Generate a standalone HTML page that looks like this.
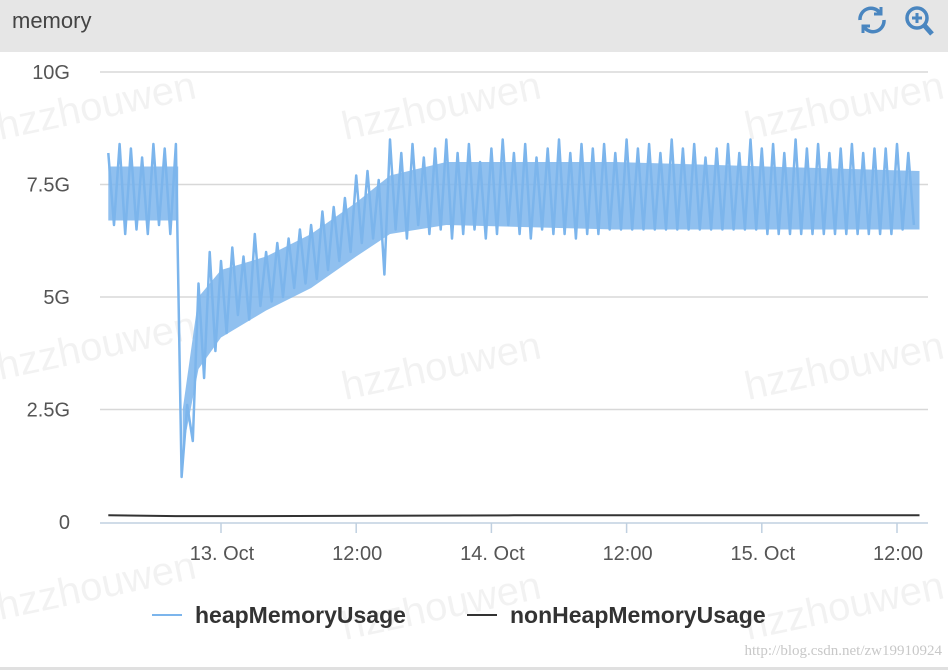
<!DOCTYPE html>
<html><head><meta charset="utf-8"><style>
body{margin:0;width:948px;height:670px;overflow:hidden;background:#fff;font-family:"Liberation Sans",sans-serif}
#hdr{position:absolute;left:0;top:0;width:948px;height:52px;background:#e6e6e6}
#title{position:absolute;left:12px;top:8px;font-size:22px;color:#444}
#foot{position:absolute;left:0;top:667px;width:948px;height:3px;background:#e0e0e0}
</style></head><body>
<div id="hdr"><div id="title">memory</div>
<svg style="position:absolute;left:855px;top:3px" width="85" height="34">
<g fill="none" stroke="#4a86c0" stroke-width="3.5"><path d="M5 17 A11 11 0 0 1 25 10"/><path d="M29 17 A11 11 0 0 1 9 24"/><path d="M26 4 L26 11 L19 11" stroke-width="3"/><path d="M8 30 L8 23 L15 23" stroke-width="3"/></g>
<g><circle cx="62" cy="15" r="10" fill="none" stroke="#4a86c0" stroke-width="3.5"/><path d="M69 22 L77 31" stroke="#4a86c0" stroke-width="5"/><path d="M62 10 V20 M57 15 H67" stroke="#4a86c0" stroke-width="3"/></g>
</svg></div>
<svg id="chart" width="948" height="670" style="position:absolute;left:0;top:0"></svg>
<div id="foot"></div>
<script>
const yTicks=[0,2.5,5,7.5,10];
const yTickLabels=["0","2.5G","5G","7.5G","10G"];
const xTicks=[0,12,24,36,48,60];
const xTickLabels=["13. Oct","12:00","14. Oct","12:00","15. Oct","12:00"];
const heapStart=-10, heapStep=0.5;
const heapValues=[8.2,6.6,8.4,6.4,8.3,6.5,8.1,6.4,8.4,6.6,8.3,6.4,8.4,
1.0,2.6,1.8,5.3,3.2,6.0,3.8,5.8,
4.2,6.1,4.6,5.9,4.5,6.4,4.8,6.0,4.9,6.2,5.0,6.3,5.2,6.5,5.3,6.6,5.4,6.9,5.6,7.0,5.8,7.2,6.0,
7.7,6.2,7.8,6.3,7.6,5.5,
8.5,6.5,8.2,6.3,8.4,6.6,8.1,6.4,8.3,6.5,8.5,6.3,8.2,6.4,8.4,6.5,8.0,6.3,8.3,6.4,8.5,6.6,8.2,6.4,8.4,6.3,8.1,6.5,8.3,6.4,8.5,6.4,8.2,6.3,8.4,
6.4,8.3,6.4,8.4,6.5,8.2,6.5,8.5,6.5,8.3,6.5,8.4,6.5,8.2,6.5,8.5,6.5,8.3,6.5,8.4,6.5,8.1,6.5,8.3,6.5,8.4,6.5,8.2,6.5,8.5,6.5,8.3,6.4,8.4,6.4,8.2,6.4,8.5,6.4,8.3,6.4,8.4,6.4,8.2,6.4,8.3,6.4,8.4,6.4,8.2,6.4,8.3,6.4,8.3,6.4,8.4,6.5,8.2,6.6];
// dense core band of the heap series (before and after the drop)
const band1Times=[-10,-3.8];
const band1Low=[6.7,6.7];
const band1High=[7.9,7.9];
const band2Times=[-3.4,-2,0,4,8,12,15,20,35,62];
const band2Low=[1.6,3.4,4.1,4.7,5.2,5.9,6.4,6.6,6.5,6.5];
const band2High=[2.5,5.0,5.6,5.9,6.4,7.1,7.7,8.0,8.0,7.8];
const nonHeapTimes=[-10,-4,2,26,62];
const nonHeapValues=[0.15,0.13,0.13,0.15,0.15];
const NS="http://www.w3.org/2000/svg",svg=document.getElementById('chart');
const X=h=>221+h*135.2/12, Y=v=>522-v*45;
function mk(t,a,p){const e=document.createElementNS(NS,t);for(const k in a)e.setAttribute(k,a[k]);(p||svg).appendChild(e);return e;}
[[0,140],[345,140],[748,140],[0,380],[345,400],[748,400],[0,620],[345,640],[748,640]].forEach(p=>{const t=mk('text',{x:p[0],y:p[1],'font-size':40,fill:'rgba(0,0,0,0.05)',transform:`rotate(-12 ${p[0]} ${p[1]})`});


t.textContent='hzzhouwen';});
yTicks.forEach((v,i)=>{if(v>0){const l=mk('line',{x1:100,x2:928,y1:Y(v),y2:Y(v),stroke:'#d8d8d8','stroke-width':1.5});

}
const t=mk('text',{x:70,y:Y(v)+7,'text-anchor':'end','font-size':20,fill:'#555'});


t.textContent=yTickLabels[i];});
const ax=mk('line',{x1:100,x2:928,y1:523,y2:523,stroke:'#c0d0e0','stroke-width':1.5});


xTicks.forEach((h,i)=>{const l=mk('line',{x1:X(h),x2:X(h),y1:523,y2:533,stroke:'#c0d0e0','stroke-width':1.5});


const t=mk('text',{x:X(h)+1,y:560,'text-anchor':'middle','font-size':20,fill:'#555'});


t.textContent=xTickLabels[i];});
function band(ts,lo,hi){const pts=ts.map((t,i)=>X(t).toFixed(1)+','+Y(hi[i]).toFixed(1)).concat(ts.map((t,i)=>X(t).toFixed(1)+','+Y(lo[i]).toFixed(1)).reverse());
const b=mk('polygon',{points:pts.join(' '),fill:'#7cb5ec','fill-opacity':0.85});

}
band(band1Times,band1Low,band1High);
band(band2Times,band2Low,band2High);
const hp=mk('polyline',{points:heapValues.map((v,i)=>X(heapStart+i*heapStep).toFixed(1)+','+Y(v).toFixed(1)).join(' '),fill:'none',stroke:'#7cb5ec','stroke-width':2.5,'stroke-linejoin':'round'});


const np=mk('polyline',{points:nonHeapValues.map((v,i)=>X(nonHeapTimes[i]).toFixed(1)+','+Y(v).toFixed(1)).join(' '),fill:'none',stroke:'#333','stroke-width':2});


[[132,'#7cb5ec','heapMemoryUsage',195],[327,'#333','nonHeapMemoryUsage',510]].forEach(d=>{const g=mk('g',{});


mk('line',{x1:d[3]-43,x2:d[3]-13,y1:615,y2:615,stroke:d[1],'stroke-width':2},g);
const t=mk('text',{x:d[3],y:623,'font-size':23,'font-weight':'bold',fill:'#333'},g);t.textContent=d[2];});
const u=mk('text',{x:942,y:655,'text-anchor':'end','font-size':15,fill:'#c8c8c8','font-family':'Liberation Serif, serif'});


u.textContent='http://blog.csdn.net/zw19910924';
</script></body></html>
